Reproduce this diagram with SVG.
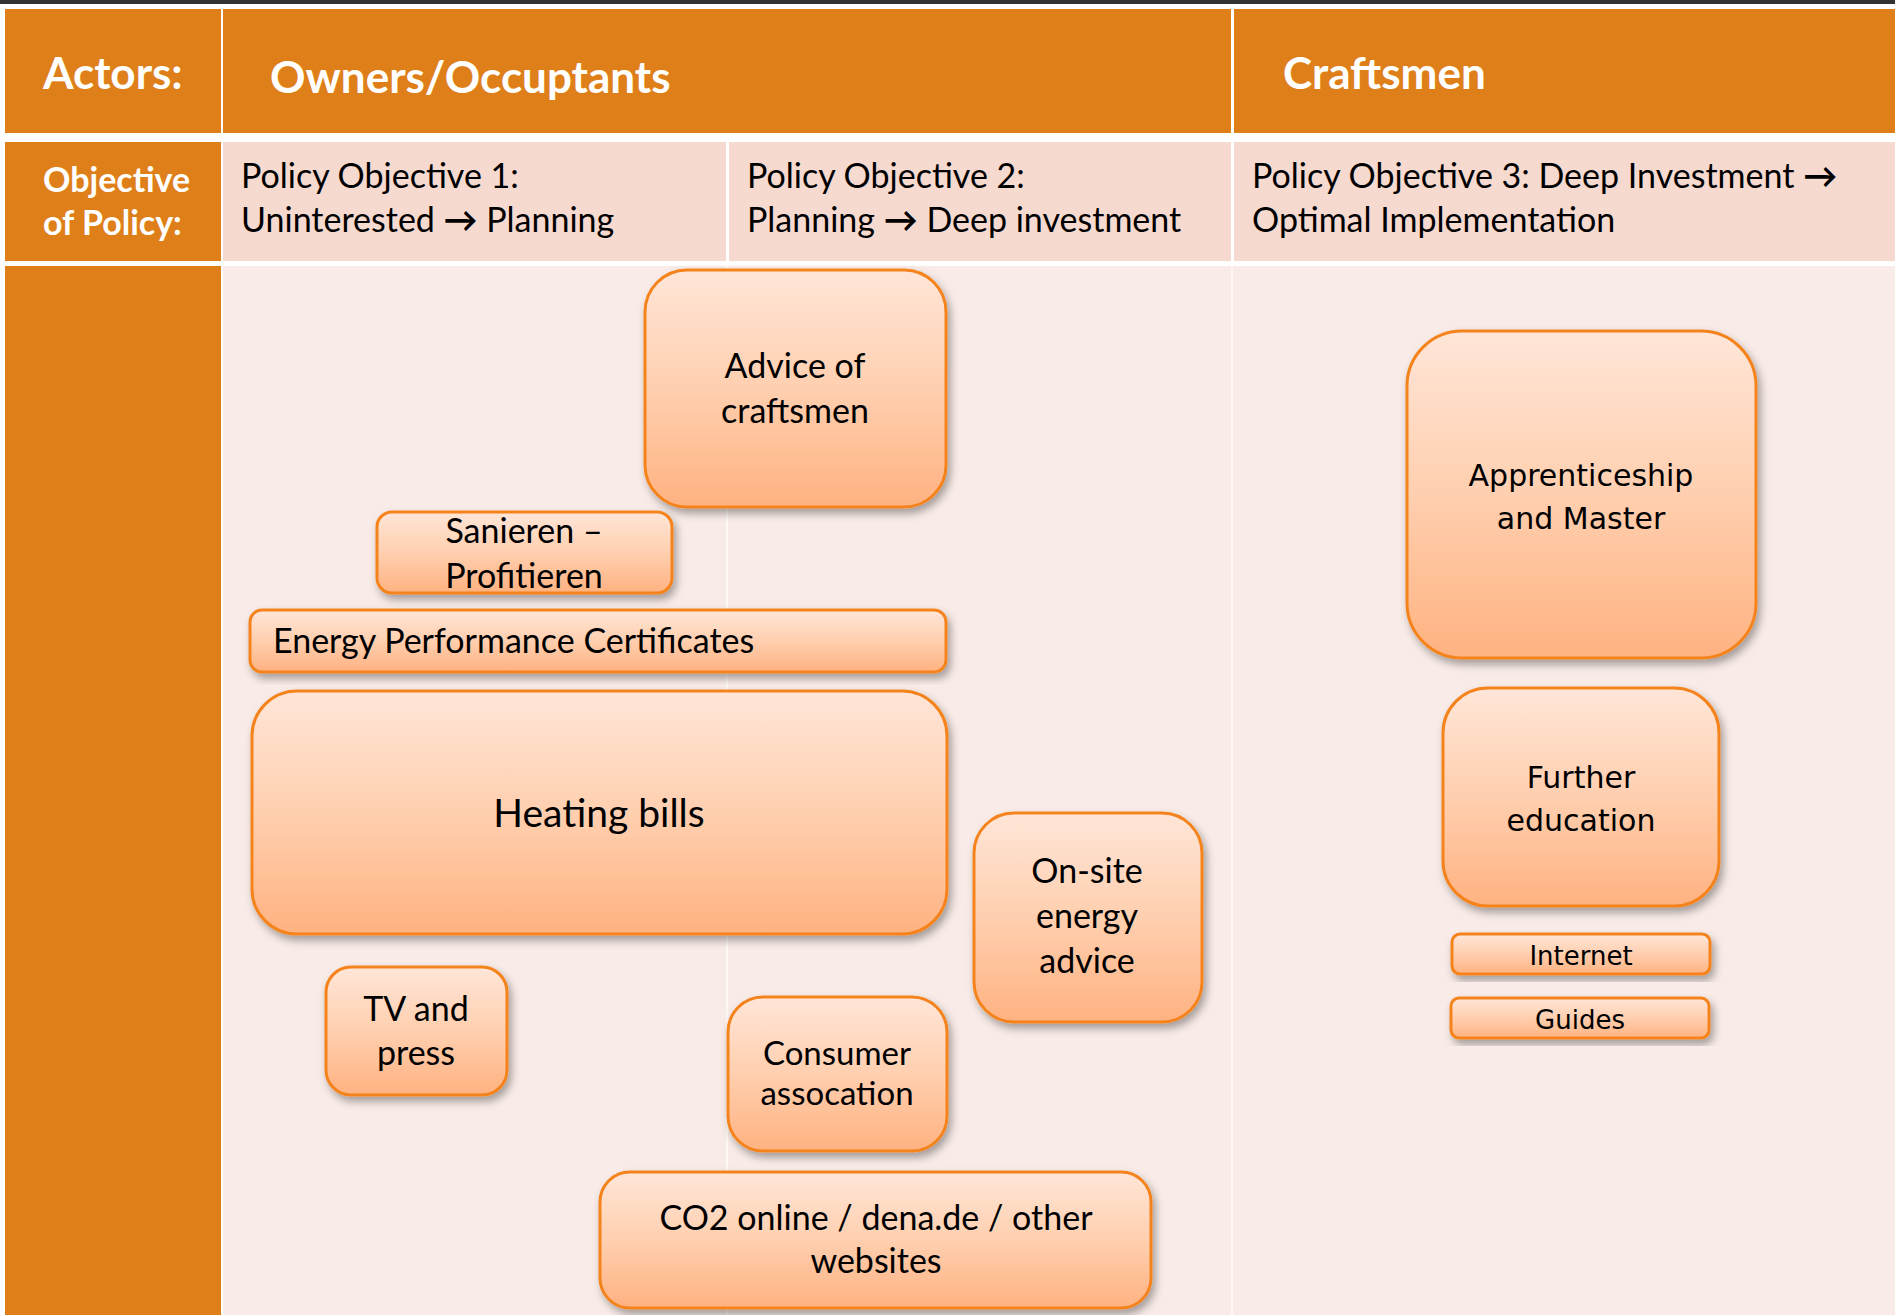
<svg xmlns="http://www.w3.org/2000/svg" width="1895" height="1315" viewBox="0 0 1895 1315">
<defs>
<linearGradient id="boxfill" x1="0" y1="0" x2="0" y2="1">
<stop offset="0" stop-color="#FFE6D8"/>
<stop offset="0.5" stop-color="#FFCFAF"/>
<stop offset="1" stop-color="#FFB281"/>
</linearGradient>
<filter id="shadow" x="-10%" y="-10%" width="125%" height="130%">
<feDropShadow dx="3" dy="5" stdDeviation="4" flood-color="#000" flood-opacity="0.35"/>
</filter>
</defs>
<style>
.hdr{fill:#DF7F1A}
.obj{fill:#F6D9CF}
.body{fill:#F9ECE8}
.box{fill:url(#boxfill);stroke:#F5831F;stroke-width:3;filter:url(#shadow)}
.ht{font-family:Lato,"Liberation Sans",sans-serif;font-weight:bold;fill:#fff}
.t{font-family:Lato,"Liberation Sans",sans-serif;font-size:34px;fill:#000}
.c{text-anchor:middle}
.big{font-size:39px}
.sm{font-size:33px}
.v{font-family:"DejaVu Sans",Verdana,sans-serif;fill:#000;text-anchor:middle}
</style>
<rect x="0" y="0" width="1895" height="1315" fill="#fff"/>
<rect x="0" y="0" width="1895" height="4" fill="#333"/>
<g id="table">
<rect class="hdr" x="5" y="9" width="216" height="124"/>
<rect class="hdr" x="223" y="9" width="1008" height="124"/>
<rect class="hdr" x="1234" y="9" width="661" height="124"/>
<rect class="hdr" x="5" y="142" width="216" height="119"/>
<rect class="obj" x="223" y="142" width="503" height="119"/>
<rect class="obj" x="729" y="142" width="502" height="119"/>
<rect class="obj" x="1234" y="142" width="661" height="119"/>
<rect class="hdr" x="5" y="266" width="216" height="1049"/>
<rect class="body" x="223" y="266" width="1672" height="1049"/>
<rect x="726" y="266" width="2" height="1049" fill="#FDF7F5"/>
<rect x="1231" y="266" width="2" height="1049" fill="#FDF7F5"/>
<text class="ht" x="43" y="89" font-size="44">Actors:</text>
<text class="ht" x="270" y="93" font-size="44">Owners/Occuptants</text>
<text class="ht" x="1283" y="89" font-size="44">Craftsmen</text>
<text class="ht" x="43" y="192" font-size="34">Objective</text>
<text class="ht" x="43" y="235" font-size="34">of Policy:</text>
<text class="t" x="241" y="188">Policy Objective 1:</text>
<text class="t" x="241" y="232">Uninterested <tspan font-weight="bold">→</tspan> Planning</text>
<text class="t" x="747" y="188">Policy Objective 2:</text>
<text class="t" x="747" y="232">Planning <tspan font-weight="bold">→</tspan> Deep investment</text>
<text class="t" x="1252" y="188">Policy Objective 3: Deep Investment <tspan font-weight="bold">→</tspan></text>
<text class="t" x="1252" y="232">Optimal Implementation</text>
</g>
<g id="connectors"/>
<g id="advice-craftsmen">
<rect class="box" x="645" y="270" width="301" height="237" rx="42"/>
<text class="t c" x="795" y="378">Advice of</text>
<text class="t c" x="795" y="423">craftsmen</text>
</g>
<g id="sanieren">
<rect class="box" x="377" y="512" width="295" height="81" rx="15"/>
<text class="t c" x="524" y="543">Sanieren –</text>
<text class="t c" x="524" y="588">Profitieren</text>
</g>
<g id="epc">
<rect class="box" x="250" y="610" width="696" height="62" rx="12"/>
<text class="t" x="273" y="653">Energy Performance Certificates</text>
</g>
<g id="heating-bills">
<rect class="box" x="252" y="691" width="695" height="243" rx="45"/>
<text class="t c big" x="599" y="827">Heating bills</text>
</g>
<g id="onsite-advice">
<rect class="box" x="974" y="813" width="228" height="209" rx="40"/>
<text class="t c" x="1087" y="883">On-site</text>
<text class="t c" x="1087" y="928">energy</text>
<text class="t c" x="1087" y="973">advice</text>
</g>
<g id="tv-press">
<rect class="box" x="326" y="967" width="181" height="128" rx="25"/>
<text class="t c" x="416" y="1021">TV and</text>
<text class="t c" x="416" y="1065">press</text>
</g>
<g id="consumer">
<rect class="box" x="728" y="997" width="219" height="154" rx="35"/>
<text class="t c sm" x="837" y="1065">Consumer</text>
<text class="t c sm" x="837" y="1105">assocation</text>
</g>
<g id="websites">
<rect class="box" x="600" y="1172" width="551" height="136" rx="30"/>
<text class="t c" x="876" y="1230">CO2 online / dena.de / other</text>
<text class="t c" x="876" y="1273">websites</text>
</g>
<g id="apprenticeship">
<rect class="box" x="1407" y="331" width="349" height="327" rx="55"/>
<text class="v" x="1581" y="486" font-size="30">Apprenticeship</text>
<text class="v" x="1581" y="529" font-size="30">and Master</text>
</g>
<g id="further-education">
<rect class="box" x="1443" y="688" width="276" height="218" rx="45"/>
<text class="v" x="1581" y="788" font-size="30">Further</text>
<text class="v" x="1581" y="831" font-size="30">education</text>
</g>
<g id="internet">
<rect class="box" x="1452" y="934" width="258" height="40" rx="8"/>
<text class="v" x="1581" y="965" font-size="26">Internet</text>
</g>
<g id="guides">
<rect class="box" x="1451" y="998" width="258" height="40" rx="8"/>
<text class="v" x="1580" y="1029" font-size="26">Guides</text>
</g>
</svg>
